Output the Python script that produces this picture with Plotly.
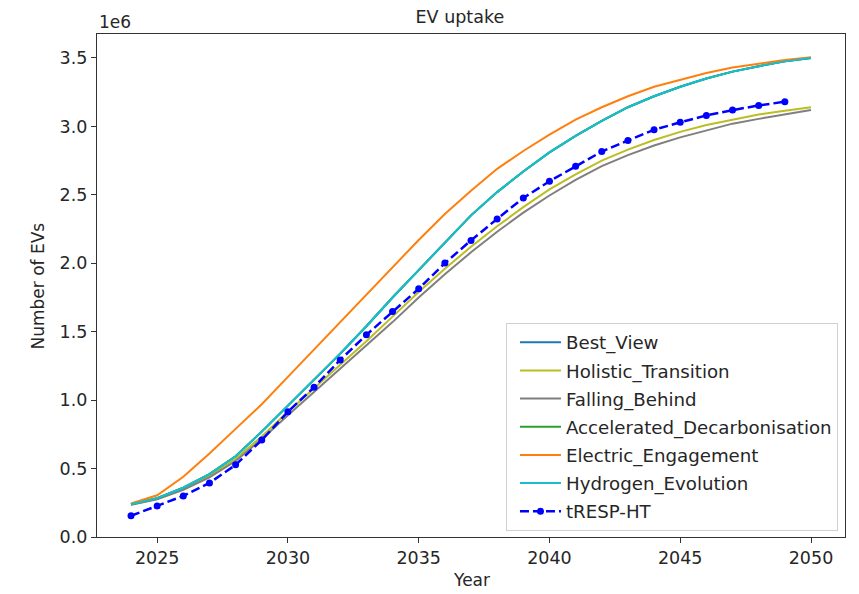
import plotly.graph_objects as go

years = list(range(2024, 2051))
years_tresp = list(range(2024, 2050))

# values in millions of EVs (axis offset 1e6)
best_view = [0.240, 0.283, 0.360, 0.460, 0.590, 0.770, 0.960, 1.150, 1.340, 1.540, 1.750, 1.950, 2.150, 2.350,
             2.520, 2.670, 2.810, 2.930, 3.040, 3.140, 3.220, 3.290, 3.350, 3.400, 3.440, 3.475, 3.500]
holistic = [0.235, 0.280, 0.355, 0.445, 0.570, 0.735, 0.915, 1.085, 1.255, 1.430, 1.610, 1.790, 1.960, 2.120,
            2.270, 2.410, 2.540, 2.650, 2.750, 2.830, 2.900, 2.960, 3.010, 3.050, 3.087, 3.115, 3.140]
falling = [0.235, 0.275, 0.345, 0.435, 0.555, 0.715, 0.890, 1.060, 1.225, 1.395, 1.570, 1.750, 1.920, 2.080,
           2.230, 2.370, 2.495, 2.610, 2.710, 2.790, 2.860, 2.920, 2.970, 3.020, 3.055, 3.090, 3.120]
accelerated = [0.240, 0.283, 0.360, 0.460, 0.590, 0.770, 0.960, 1.150, 1.340, 1.540, 1.750, 1.950, 2.150, 2.350,
               2.520, 2.670, 2.810, 2.930, 3.040, 3.140, 3.220, 3.290, 3.350, 3.400, 3.440, 3.475, 3.500]
electric = [0.245, 0.305, 0.440, 0.610, 0.790, 0.970, 1.170, 1.370, 1.570, 1.770, 1.970, 2.170, 2.360, 2.530,
            2.690, 2.820, 2.940, 3.050, 3.140, 3.220, 3.290, 3.340, 3.390, 3.430, 3.460, 3.485, 3.505]
hydrogen = [0.240, 0.283, 0.360, 0.460, 0.590, 0.770, 0.960, 1.150, 1.340, 1.540, 1.750, 1.950, 2.150, 2.350,
            2.520, 2.670, 2.810, 2.930, 3.040, 3.140, 3.220, 3.290, 3.350, 3.400, 3.440, 3.475, 3.500]
tresp_ht = [0.155, 0.227, 0.300, 0.395, 0.527, 0.708, 0.915, 1.095, 1.294, 1.477, 1.647, 1.813, 2.001, 2.167,
            2.324, 2.477, 2.599, 2.709, 2.816, 2.897, 2.975, 3.030, 3.080, 3.119, 3.153, 3.180]

series = [
    ("Best_View", best_view, "#1f77b4"),
    ("Holistic_Transition", holistic, "#bcbd22"),
    ("Falling_Behind", falling, "#7f7f7f"),
    ("Accelerated_Decarbonisation", accelerated, "#2ca02c"),
    ("Electric_Engagement", electric, "#ff7f0e"),
    ("Hydrogen_Evolution", hydrogen, "#17becf"),
]

fig = go.Figure()
for i, (name, vals, col) in enumerate(series):
    fig.add_trace(go.Scatter(x=years, y=vals, mode="lines", name=name, legendgroup=f"g{i}",
                             line=dict(color=col, width=2)))
fig.add_trace(go.Scatter(x=years_tresp, y=tresp_ht, mode="lines+markers", name="tRESP-HT", legendgroup="g6",
                         line=dict(color="#0000ff", width=2.5, dash="9px,4px"),
                         marker=dict(color="#0000ff", size=7)))

font_fam = "DejaVu Sans, sans-serif"
txt = "#262626"
fig.update_layout(
    width=851, height=586,
    paper_bgcolor="white", plot_bgcolor="white",
    margin=dict(l=89, r=14, t=26, b=57, autoexpand=False),
    font=dict(family=font_fam, size=17, color=txt),
    title=dict(text="EV uptake", x=0.531, xref="container", xanchor="center", y=0.995, yref="container",
               yanchor="top", font=dict(size=17.5, color=txt)),
    showlegend=True,
    legend=dict(x=0.9906, y=0.012, xanchor="right", yanchor="bottom", bgcolor="rgba(255,255,255,0.9)",
                bordercolor="#d0d0d0", borderwidth=1, font=dict(size=18.2), itemwidth=41, indentation=8,
                tracegroupgap=1.5, traceorder="grouped"),
    annotations=[
        dict(text="1e6", xref="paper", yref="paper", x=0, y=1, xanchor="left", yanchor="bottom",
             showarrow=False, font=dict(size=17, color=txt)),
        dict(text="Year", xref="paper", yref="paper", x=0.5, y=-0.0854, xanchor="center", yanchor="middle",
             showarrow=False, font=dict(size=17, color=txt)),
        dict(text="Number of EVs", xref="paper", yref="paper", x=-0.0789, y=0.5, xanchor="center",
             yanchor="middle", textangle=-90, showarrow=False, font=dict(size=17, color=txt)),
    ],
)
fig.update_xaxes(range=[2022.7, 2051.3], tickvals=[2025, 2030, 2035, 2040, 2045, 2050],
                 showline=True, linecolor="#333", linewidth=1.3, mirror=True, automargin=False,
                 ticks="outside", ticklen=5, tickcolor="#333", showgrid=False, zeroline=False,
                 tickfont=dict(size=17.5))
fig.update_yaxes(range=[0, 3.675], tickvals=[0, 0.5, 1, 1.5, 2, 2.5, 3, 3.5], tickformat=".1f",
                 showline=True, linecolor="#333", linewidth=1.3, mirror=True, automargin=False,
                 ticks="outside", ticklen=5, tickcolor="#333", showgrid=False, zeroline=False,
                 tickfont=dict(size=17.5))

fig.write_html("out.html")
